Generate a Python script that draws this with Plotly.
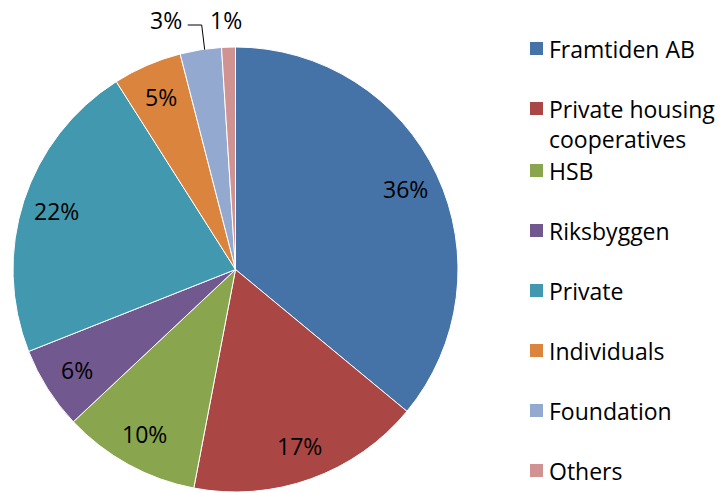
import math
import plotly.graph_objects as go

labels = ["Framtiden AB", "Private housing cooperatives", "HSB", "Riksbyggen",
          "Private", "Individuals", "Foundation", "Others"]
legend_text = ["Framtiden AB", "Private housing<br>cooperatives", "HSB", "Riksbyggen",
               "Private", "Individuals", "Foundation", "Others"]
shares = [36, 17, 10, 6, 22, 5, 3, 1]
colors = ["#4572A7", "#AA4643", "#89A54E", "#71588F",
          "#4198AF", "#DB843D", "#93A9CF", "#D19392"]

FONT = "'Open Sans', sans-serif"
W, H = 720, 493
# pie box in pixels
PX0, PX1, PY0, PY1 = 13, 458, 47, 492
CX, CY = (PX0 + PX1) / 2, (PY0 + PY1) / 2
R = min(PX1 - PX0, PY1 - PY0) / 2


def px(x):
    return x / W


def py(y):
    return 1 - y / H


fig = go.Figure()
fig.add_trace(go.Pie(
    labels=labels, values=shares, sort=False, direction="clockwise", rotation=0,
    marker=dict(colors=colors, line=dict(color="white", width=1)),
    textinfo="none",
    domain=dict(x=[px(PX0), px(PX1)], y=[py(PY1), py(PY0)]),
    showlegend=False,
))

# data labels, Excel-style: inside near the rim, tiny slices outside
total = sum(shares)
cum = 0
for i, v in enumerate(shares):
    mid = (cum + v / 2) / total * 2 * math.pi
    cum += v
    s, c = math.sin(mid), math.cos(mid)
    if v >= 5:
        r = 0.845 * R
        lx, ly = CX + r * s, CY - r * c
    else:
        ex, ey = CX + R * s, CY - R * c
        ly = 20
        if labels[i] == "Foundation":
            lx = ex - 35
            fig.add_shape(type="path", xref="paper", yref="paper",
                          path=f"M {px(ex - 13)} {py(25)} L {px(ex + 1)} {py(25)} L {px(ex + 4)} {py(ey)}",
                          line=dict(color="black", width=1))
        else:
            lx = ex - 3
    fig.add_annotation(x=px(lx), y=py(ly), xref="paper", yref="paper",
                       xanchor="center", yanchor="middle", text=f"{v}%",
                       showarrow=False, font=dict(size=23, color="black", family=FONT))

# legend drawn by hand to get Excel-like spacing
y_pos = [48, 108, 170, 230, 290, 350, 410, 470]
for lab, col, yp in zip(legend_text, colors, y_pos):
    fig.add_shape(type="rect", xref="paper", yref="paper",
                  x0=px(530), x1=px(543), y0=py(yp + 7), y1=py(yp - 6),
                  fillcolor=col, line_width=0)
    fig.add_annotation(xref="paper", yref="paper", x=px(547), y=py(yp - 17),
                       xanchor="left", yanchor="top", align="left", showarrow=False,
                       text=lab, font=dict(size=23, color="black", family=FONT))

fig.update_layout(
    width=W, height=H,
    margin=dict(l=0, r=0, t=0, b=0),
    paper_bgcolor="white", plot_bgcolor="white",
    font=dict(family=FONT),
)
fig.write_html("out.html", config={"displayModeBar": False},
               post_script="document.body.style.margin='0';")
